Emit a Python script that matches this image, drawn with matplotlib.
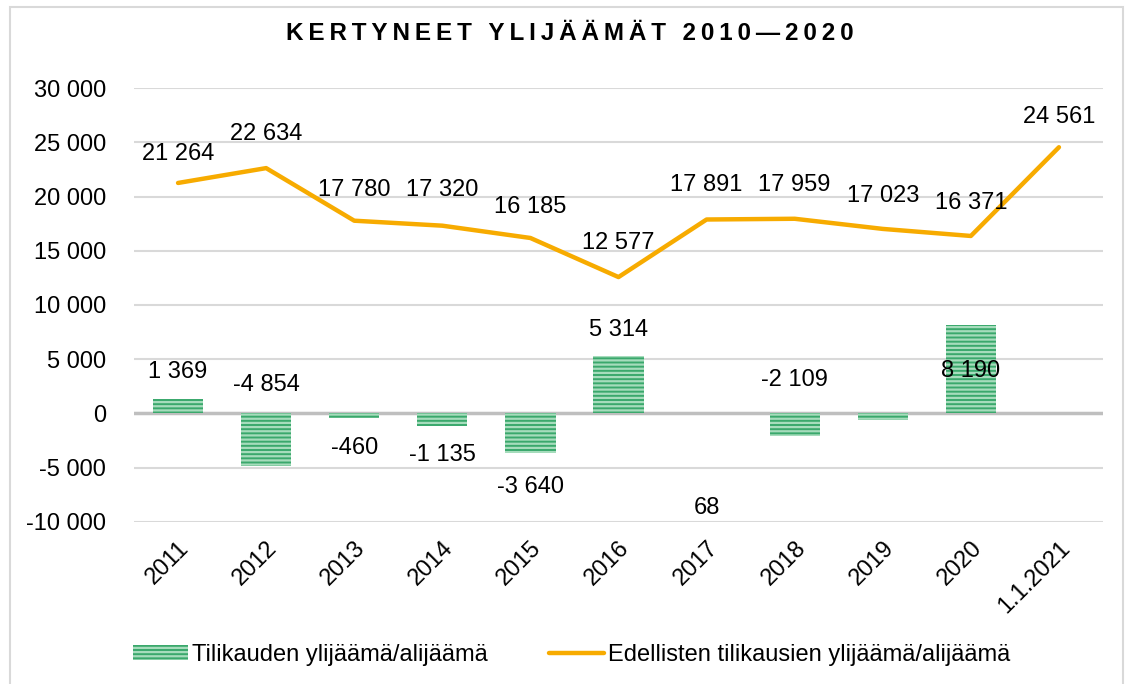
import matplotlib
matplotlib.use("Agg")
import matplotlib.pyplot as plt
from matplotlib.patches import Rectangle

plt.rcParams['font.family'] = ['Liberation Sans', 'DejaVu Sans']

categories = ['2011', '2012', '2013', '2014', '2015', '2016', '2017', '2018', '2019', '2020', '1.1.2021']
# tilikauden ylijäämä/alijäämä (no bar for 1.1.2021)
period_result = [1369, -4854, -460, -1135, -3640, 5314, 68, -2109, -652, 8190, None]
# edellisten tilikausien ylijäämä/alijäämä
accumulated = [21264, 22634, 17780, 17320, 16185, 12577, 17891, 17959, 17023, 16371, 24561]

# where the data labels sit (y centre, data units) - moved by hand in the original
bar_label_y = [3820, 2620, -3190, -3820, -6800, 7700, -8730, 3080, None, 3920, None]
line_label_y = [23950, 25800, 20630, 20630, 19060, 15730, 21100, 21100, 20070, 19430, 27370]

GREEN = '#3aa86c'
STRIPE = '#a6dcbc'
ORANGE = '#f7ab00'


def fmt(v):
    return f"{v:,}".replace(',', ' ')


fig = plt.figure(figsize=(11.27, 6.84), dpi=100)
ax = fig.add_axes([0.1189, 0.2373, 0.8598, 0.6336])

x = list(range(len(categories)))
bx = [i for i, v in zip(x, period_result) if v is not None]
bv = [v for v in period_result if v is not None]

plt.rcParams['hatch.linewidth'] = 1.6
bars = ax.bar(bx, bv, width=0.57, color=GREEN, edgecolor=STRIPE, linewidth=0,
              hatch='----', label='Tilikauden ylijäämä/alijäämä', zorder=3)
line, = ax.plot(x, accumulated, color=ORANGE, lw=3.2, solid_capstyle='round',
                label='Edellisten tilikausien ylijäämä/alijäämä', zorder=4)

for i, v in enumerate(period_result):
    if v is not None and bar_label_y[i] is not None:
        ax.text(i, bar_label_y[i], fmt(v), ha='center', va='center', fontsize=17, zorder=5)
for i, v in enumerate(accumulated):
    ax.text(i, line_label_y[i], fmt(v), ha='center', va='center', fontsize=17, zorder=5)

ax.set_xlim(-0.5, len(categories) - 0.5)
ax.set_ylim(-10000, 30000)
ax.set_yticks(range(-10000, 30001, 5000))
ax.set_yticklabels([fmt(t) for t in range(-10000, 30001, 5000)])
ax.grid(axis='y', color='#d9d9d9', lw=1.5, zorder=0)
ax.axhline(0, color='#bfbfbf', lw=2.5, zorder=2)
for s in ax.spines.values():
    s.set_visible(False)
ax.tick_params(axis='y', length=0, labelsize=17, pad=20)
ax.tick_params(axis='x', length=0, labelsize=17, pad=11)
ax.set_xticks(x)
ax.set_xticklabels(categories, rotation=45, ha='right', va='top', rotation_mode='anchor')

title = "\u2009".join("KERTYNEET YLIJÄÄMÄT 2010—2020")
fig.text(0.506, 0.951, title, ha='center', va='center', fontsize=17.5, fontweight='bold')

fig.legend(handles=[bars, line], loc='center', bbox_to_anchor=(0.507, 0.043), ncol=2,
           frameon=False, fontsize=17, handlelength=2.35, handleheight=0.6,
           handletextpad=0.15, columnspacing=2.6)

fig.patches.append(Rectangle((10 / 1127, -0.01), 1113 / 1127, 1 - 7 / 684 + 0.01,
                             transform=fig.transFigure, fill=False,
                             edgecolor='#d9d9d9', lw=1.5))

fig.savefig('out.png', dpi=100)
